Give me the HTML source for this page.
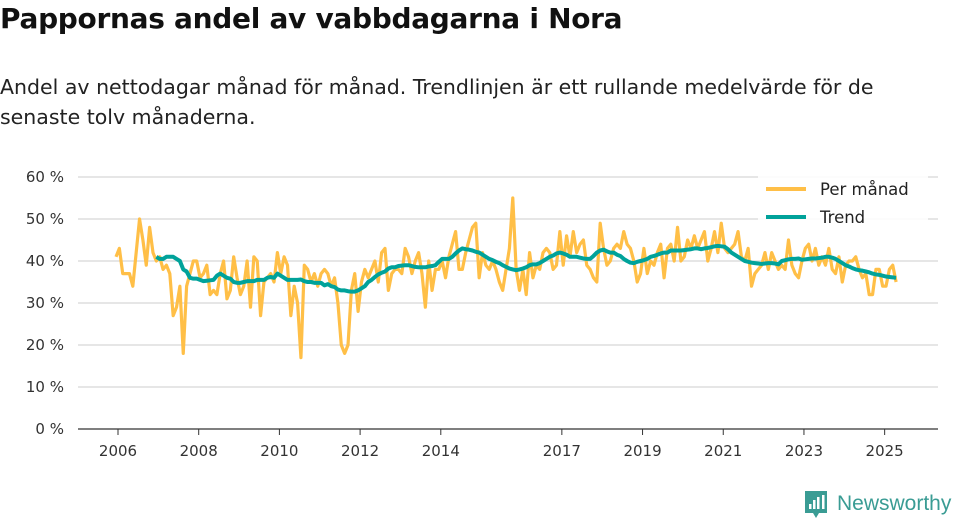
<!DOCTYPE html>
<html><head><meta charset="utf-8"><style>
body{margin:0;background:#fff;font-family:"DejaVu Sans","Liberation Sans",sans-serif;color:#111}
#wrap{position:relative;width:960px;height:520px;overflow:hidden}
h1{position:absolute;left:0;top:2px;margin:0;font-size:28px;font-weight:bold;letter-spacing:-0.3px}
p.sub{position:absolute;left:0;top:72px;margin:0;font-size:20.5px;line-height:30px;width:930px;color:#222;letter-spacing:0px}
</style></head><body>
<div id="wrap">
<h1>Pappornas andel av vabbdagarna i Nora</h1>
<p class="sub">Andel av nettodagar månad för månad. Trendlinjen är ett rullande medelvärde för de senaste tolv månaderna.</p>
<svg id="chart" width="960" height="520" style="position:absolute;left:0;top:0"></svg>
</div>
<script>
const yTicks=[0,10,20,30,40,50,60];
const xTickYears=[2006,2008,2010,2012,2014,2017,2019,2021,2023,2025];
const monthly=[41,43,37,37,37,34,42,50,45,39,48,42,
40,41,38,39,37,27,29,34,18,34,37,40,
40,36,37,39,32,33,32,37,40,31,33,41,
36,32,34,40,29,41,40,27,35,36,37,35,
42,37,41,39,27,34,30,17,39,38,35,37,
34,37,38,37,34,36,30,20,18,20,33,37,
28,35,38,36,38,40,35,42,43,33,37,38,
38,37,43,41,37,40,42,37,29,40,33,38,
38,40,36,41,44,47,38,38,42,45,48,49,
36,42,39,38,40,38,35,33,38,43,55,38,
33,38,32,42,36,39,38,42,43,42,38,39,
47,39,46,41,47,42,44,45,39,38,36,35,
49,43,39,40,43,44,43,47,44,43,40,35,
37,43,37,40,39,42,44,36,43,44,40,48,
40,41,45,43,46,43,45,47,40,43,47,42,
49,43,42,43,44,47,41,40,43,34,37,38,
39,42,38,42,40,38,39,38,45,39,37,36,
40,43,44,40,43,39,41,39,43,38,37,41,
35,39,40,40,41,38,36,37,32,32,38,38,
34,34,38,39,35];
const trend=[41,40.5,40.5,41,41,41,40.5,40,38,37.5,36,35.8,
35.8,35.5,35.2,35.3,35.4,35.5,36.5,37,36.5,36,35.8,35,
34.8,34.8,35,35.2,35.2,35.2,35.5,35.5,35.5,36,36.2,36,
37,36.5,36,35.5,35.5,35.5,35.5,35.6,35.2,35,35,34.8,
34.8,34.8,34.2,34.5,34,33.8,33.2,33,33,32.8,32.7,32.7,
33,33.5,34,35,35.5,36.2,36.8,37.2,37.5,38.2,38.5,38.5,
38.8,38.9,39,39,38.8,38.6,38.5,38.5,38.5,38.7,38.8,39,
39.8,40.5,40.5,40.5,41,41.8,42.5,43,42.8,42.7,42.5,42.2,
42,41.5,41,40.5,40.2,39.8,39.5,39,38.6,38.2,38,37.8,
38,38.2,38.5,39,39.2,39.2,39.5,40,40.5,41,41.3,41.8,
42,41.8,41.5,41,41,41,40.8,40.6,40.5,40.5,41.2,42,
42.5,42.7,42.3,42,42,41.5,41.2,40.5,40,39.6,39.5,39.8,
40,40.2,40.5,41,41.2,41.5,41.8,42,42,42.5,42.5,42.5,
42.5,42.6,42.7,42.8,43,43,42.8,43,43.1,43.3,43.5,43.6,
43.5,43.4,42.8,42,41.5,41,40.5,40,39.8,39.6,39.5,39.4,
39.3,39.4,39.5,39.5,39.4,39.2,40,40.2,40.4,40.5,40.5,40.6,
40.3,40.4,40.5,40.6,40.6,40.7,40.8,41,41,40.8,40.5,40,
39.5,39,38.7,38.3,38,37.8,37.7,37.5,37.3,37,36.8,36.7,
36.5,36.3,36.2,36.1,36];
const trendStartIndex=12;
const NS='http://www.w3.org/2000/svg';
const svg=document.getElementById('chart');
const X0=78,X1=938,Y0=429,Y1=177;
function xScale(t){return 118+(t-2006)*40.35;}
function xMonth(i){return xScale(2006+i/12)-2;}
function yScale(v){return Y0-(v/60)*(Y0-Y1);}
function mk(tag,attrs){const e=document.createElementNS(NS,tag);for(const k in attrs)e.setAttribute(k,attrs[k]);svg.appendChild(e);return e;}
yTicks.forEach(v=>{
  const l=mk('line',{x1:X0,x2:X1,y1:yScale(v),y2:yScale(v),stroke:v===0?'#333':'#ddd','stroke-width':v===0?1.2:1.5});
  
  
  const t=mk('text',{x:64,y:yScale(v)+5,'text-anchor':'end','font-size':'15',fill:'#333'});
  t.textContent=v+' %';
  
  
});
xTickYears.forEach(y=>{
  const x=xScale(y);
  const tk=mk('line',{x1:x,x2:x,y1:Y0,y2:Y0+6,stroke:'#333','stroke-width':1});
  
  
  const t=mk('text',{x:x,y:456,'text-anchor':'middle','font-size':'15',fill:'#333'});
  t.textContent=y;
  
  
});
const p1=mk('polyline',{points:monthly.map((v,i)=>xMonth(i)+','+yScale(v)).join(' '),fill:'none',stroke:'#ffbf47','stroke-width':3.2,'stroke-linejoin':'round'});


const p2=mk('polyline',{points:trend.map((v,i)=>xMonth(i+trendStartIndex)+','+yScale(v)).join(' '),fill:'none',stroke:'#00a29a','stroke-width':4,'stroke-linejoin':'round'});


const bg=mk('rect',{x:758,y:174,width:170,height:58,fill:'#fff','fill-opacity':0.85});


[['Per månad','#ffbf47',189],['Trend','#00a29a',217]].forEach(([n,c,y])=>{
  const l=mk('line',{x1:766,x2:806,y1:y,y2:y,stroke:c,'stroke-width':4});
  
  
  const t=mk('text',{x:820,y:y+6,'font-size':'16.5',fill:'#222'});
  t.textContent=n;
  
  
});
const ic=mk('path',{d:'M805 491 h22 v22 h-8 l-3 5 l-3 -5 h-8 z',fill:'#3a9c94'});


[[809,504],[813,500],[817,497],[822,495]].forEach(([x,y])=>{
  const b=mk('rect',{x:x,y:y,width:2.5,height:509-y,fill:'#fff'});
  
  
});
const lt=mk('text',{x:837,y:510,'font-size':'21',fill:'#3a9c94','font-family':'Liberation Sans, sans-serif'});
lt.textContent='Newsworthy';


</script>
</body></html>
